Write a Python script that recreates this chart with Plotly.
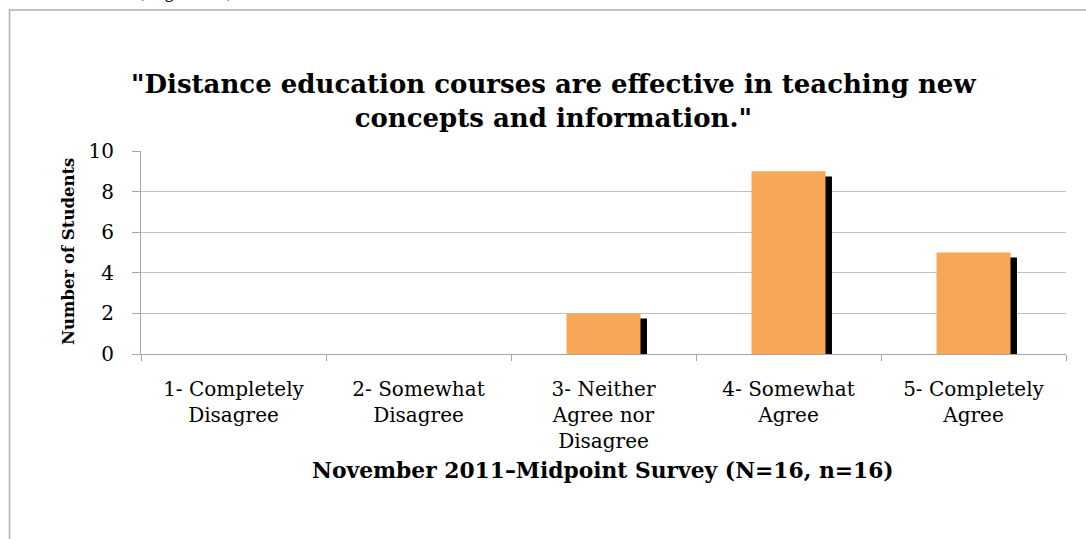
import plotly.graph_objects as go

categories = ["1- Completely<br>Disagree", "2- Somewhat<br>Disagree",
              "3- Neither<br>Agree nor<br>Disagree", "4- Somewhat<br>Agree",
              "5- Completely<br>Agree"]
students = [0, 0, 2, 9, 5]
y_ticks = [0, 2, 4, 6, 8, 10]

title_text = "<b>\"Distance education courses are effective in teaching new<br>concepts and information.\"</b>"
x_title = "<b>November 2011–Midpoint Survey (N=16, n=16)</b>"
y_title = "<b>Number of Students</b>"

W, H = 1086, 539
L, R, T, B = 141, 20, 151, 185
pw, ph = W - L - R, H - T - B

def px(x):
    return (x - L) / pw

def py(y):
    return 1 - (y - T) / ph

serif = "DejaVu Serif"

fig = go.Figure()
# shadow
fig.add_trace(go.Bar(
    x=categories, y=[max(v - 0.25, 0) for v in students],
    width=0.4, offset=-0.165,
    marker=dict(color="#000000", line=dict(width=0)),
    hoverinfo="skip", showlegend=False,
))
fig.add_trace(go.Bar(
    x=categories, y=students,
    width=0.4, offset=-0.2,
    marker=dict(color="#F7A756", line=dict(width=0)),
    showlegend=False,
))

fig.update_layout(
    width=W, height=H, barmode="overlay",
    margin=dict(l=L, r=R, t=T, b=B, autoexpand=False),
    paper_bgcolor="white", plot_bgcolor="white",
    xaxis=dict(
        type="category", showgrid=False, showline=True, linecolor="#A6A6A6", linewidth=1,
        ticks="outside", tickson="boundaries", ticklen=6, tickcolor="#A6A6A6",
        tickfont=dict(family=serif, size=20, color="black"),
        ticklabelstandoff=17,
    ),
    yaxis=dict(
        range=[0, 10], tickvals=y_ticks, showgrid=True, gridcolor="#BFBFBF", gridwidth=1,
        showline=True, linecolor="#A6A6A6", linewidth=1,
        ticks="outside", ticklen=8, tickcolor="#A6A6A6",
        tickfont=dict(family=serif, size=20, color="black"),
        ticklabelstandoff=14,
        zeroline=False,
    ),
    shapes=[dict(type="rect", xref="paper", yref="paper",
                 x0=px(9.5), x1=px(1200), y0=py(700), y1=py(10),
                 line=dict(color="#B0B0B0", width=1.5), fillcolor="rgba(0,0,0,0)",
                 layer="below")],
    annotations=[
        dict(text=title_text, xref="paper", yref="paper", x=px(553), y=py(101),
             xanchor="center", yanchor="middle", showarrow=False,
             font=dict(family=serif, size=26, color="black")),
        dict(text=x_title, xref="paper", yref="paper", x=px(603), y=py(470),
             xanchor="center", yanchor="middle", showarrow=False,
             font=dict(family=serif, size=21.8, color="black")),
        dict(text=y_title, xref="paper", yref="paper", x=px(68), y=py(252),
             xanchor="center", yanchor="middle", showarrow=False, textangle=-90,
             font=dict(family=serif, size=16.5, color="black")),
        dict(text="(Figure 5)", xref="paper", yref="paper", x=px(185), y=py(4),
             xanchor="center", yanchor="bottom", showarrow=False,
             font=dict(family=serif, size=19, color="black")),
    ],
)

fig.write_html("out.html", config={"displayModeBar": False},
               post_script="document.body.style.margin='0';document.body.style.padding='0';")
